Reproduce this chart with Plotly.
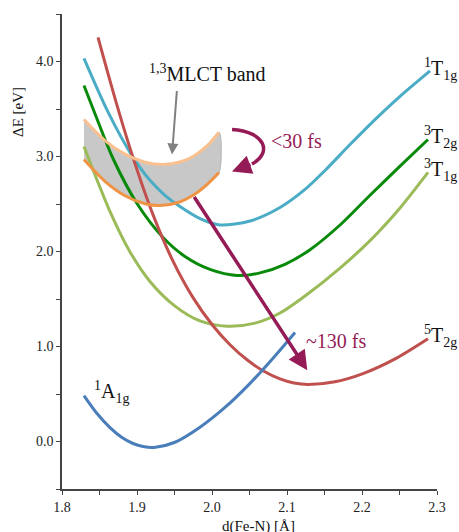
import plotly.graph_objects as go

# ---------------- data ----------------
a1g_x = [1.8293, 1.8467, 1.864, 1.88, 1.8947, 1.908, 1.9227, 1.9507, 1.984, 2.0173, 2.0507, 2.084, 2.1107]
a1g_y = [0.484, 0.295, 0.147, 0.042, -0.021, -0.053, -0.063, -0.008, 0.150, 0.358, 0.612, 0.901, 1.148]

t1g1_x = [1.8293, 1.8613, 1.8933, 1.9173, 1.9373, 1.9573, 1.984, 2.0107, 2.0507, 2.0907, 2.124, 2.1507, 2.184, 2.2173, 2.2507, 2.2907]
t1g1_y = [4.032, 3.469, 3.009, 2.749, 2.592, 2.473, 2.346, 2.279, 2.321, 2.463, 2.653, 2.853, 3.126, 3.389, 3.634, 3.902]

t2g3_x = [1.8293, 1.848, 1.868, 1.9, 1.9347, 1.964, 1.9973, 2.0333, 2.064, 2.0973, 2.1307, 2.1707, 2.2107, 2.2507, 2.288]
t2g3_y = [3.747, 3.368, 2.979, 2.505, 2.147, 1.947, 1.811, 1.747, 1.775, 1.865, 2.019, 2.279, 2.592, 2.898, 3.179]

t1g3_x = [1.8293, 1.8467, 1.864, 1.8907, 1.9173, 1.9507, 1.984, 2.02, 2.0573, 2.0907, 2.124, 2.1707, 2.2107, 2.2507, 2.288]
t1g3_y = [3.105, 2.753, 2.421, 1.996, 1.685, 1.425, 1.269, 1.213, 1.246, 1.353, 1.532, 1.826, 2.114, 2.458, 2.832]

t2g5_x = [1.848, 1.872, 1.8947, 1.9213, 1.948, 1.9747, 2.0013, 2.024, 2.0467, 2.068, 2.0907, 2.1093, 2.128, 2.164, 2.2013, 2.2467, 2.288]
t2g5_y = [4.253, 3.575, 2.988, 2.388, 1.899, 1.515, 1.218, 1.019, 0.860, 0.745, 0.659, 0.616, 0.601, 0.629, 0.715, 0.881, 1.081]

mlct_top_x = [1.8293, 1.8573, 1.884, 1.9107, 1.9347, 1.9573, 1.9747, 1.9933, 2.0093]
mlct_top_y = [3.389, 3.168, 3.025, 2.940, 2.916, 2.942, 3.000, 3.111, 3.253]
mlct_bot_x = [1.8293, 1.8573, 1.884, 1.9107, 1.9307, 1.9533, 1.9747, 1.9933, 2.0093]
mlct_bot_y = [2.968, 2.739, 2.587, 2.503, 2.484, 2.513, 2.593, 2.705, 2.832]

x_ticks = [1.8, 1.9, 2.0, 2.1, 2.2, 2.3]
y_ticks = [0.0, 1.0, 2.0, 3.0, 4.0]

# ---------------- styles ----------------
SERIF = "Liberation Serif"
PURPLE = "#951b57"
C_A1G = "#4a7ebb"
C_T1G1 = "#4bacc6"
C_T2G3 = "#0a8a0a"
C_T1G3 = "#9bbb59"
C_T2G5 = "#c0504d"
C_TOP = "#fac090"
C_BOT = "#ee9444"
LW = 3

fig = go.Figure()

# MLCT band fill (polygon built from the two band edges)
fig.add_trace(go.Scatter(
    x=mlct_top_x + mlct_bot_x[::-1], y=mlct_top_y + mlct_bot_y[::-1],
    fill="toself", fillcolor="#c8c8c8", line=dict(color="#bdbdbd", width=1.5, shape="spline", smoothing=0.8),
    mode="lines", hoverinfo="skip", showlegend=False))

def curve(x, y, color):
    fig.add_trace(go.Scatter(x=x, y=y, mode="lines",
                             line=dict(color=color, width=LW, shape="spline", smoothing=0.8),
                             showlegend=False, hoverinfo="skip"))

curve(t1g3_x, t1g3_y, C_T1G3)
curve(t2g3_x, t2g3_y, C_T2G3)
curve(t1g1_x, t1g1_y, C_T1G1)
curve(t2g5_x, t2g5_y, C_T2G5)
curve(mlct_top_x, mlct_top_y, C_TOP)
curve(mlct_bot_x, mlct_bot_y, C_BOT)
curve(a1g_x, a1g_y, C_A1G)

annotations = []

def label(txt, x, y, xanchor="left"):
    annotations.append(dict(text=txt, x=x, y=y, xref="x", yref="y", xanchor=xanchor,
                            yanchor="middle", showarrow=False,
                            font=dict(family=SERIF, size=20, color="#111111")))

label("<sup>1</sup>T<sub>1g</sub>", 2.28, 3.92)
label("<sup>3</sup>T<sub>2g</sub>", 2.28, 3.205)
label("<sup>3</sup>T<sub>1g</sub>", 2.28, 2.858)
label("<sup>5</sup>T<sub>2g</sub>", 2.28, 1.11)
label("<sup>1</sup>A<sub>1g</sub>", 1.84, 0.52)
label("<sup>1,3</sup>MLCT band", 1.9133, 3.88)

# gray arrow to band
annotations.append(dict(text="", x=1.9467, y=3.021, ax=1.9533, ay=3.705, xref="x", yref="y",
                        axref="x", ayref="y", showarrow=True, arrowhead=2, arrowsize=1.1,
                        arrowwidth=2, arrowcolor="#808080", standoff=0))

# purple straight arrow (~130 fs)
annotations.append(dict(text="", x=2.127, y=0.75, ax=1.975, ay=2.59, xref="x", yref="y",
                        axref="x", ayref="y", showarrow=True, arrowhead=2, arrowsize=1.1,
                        arrowwidth=3.5, arrowcolor=PURPLE, standoff=0))
annotations.append(dict(text="~130 fs", x=2.1653, y=1.053, xref="x", yref="y", showarrow=False,
                        font=dict(family=SERIF, size=20, color=PURPLE)))

# curved arrow (<30 fs)
annotations.append(dict(text="", x=2.0267, y=2.842, ax=2.0533, ay=2.921, xref="x", yref="y",
                        axref="x", ayref="y", showarrow=True, arrowhead=2, arrowsize=1.1,
                        arrowwidth=3.5, arrowcolor=PURPLE, standoff=0))
annotations.append(dict(text="<30 fs", x=2.112, y=3.168, xref="x", yref="y", showarrow=False,
                        font=dict(family=SERIF, size=20, color=PURPLE)))

# axis titles
annotations.append(dict(text="ΔE [eV]", x=-0.117, y=0.794, xref="paper", yref="paper",
                        textangle=-90, showarrow=False, xanchor="center", yanchor="middle",
                        font=dict(family=SERIF, size=15, color="#111111")))
annotations.append(dict(text="d(Fe-N) [Å]", x=0.523, y=-0.078, xref="paper", yref="paper",
                        showarrow=False, xanchor="center", yanchor="middle",
                        font=dict(family=SERIF, size=15, color="#111111")))

shapes = [dict(type="path", xref="x", yref="y",
               path="M 2.0267,3.284 C 2.0707,3.263 2.0813,3.042 2.0533,2.921",
               line=dict(color=PURPLE, width=3.5))]

axis_common = dict(showgrid=False, zeroline=False, showline=True, linecolor="#444444",
                   linewidth=1.5, ticks="outside", ticklen=4, tickwidth=1.2, tickcolor="#444444",
                   tickfont=dict(family=SERIF, size=14, color="#222222"))

fig.update_layout(
    width=459, height=532,
    margin=dict(l=62, r=22, t=14, b=43),
    font=dict(family=SERIF),
    plot_bgcolor="white", paper_bgcolor="white",
    xaxis=dict(range=[1.8, 2.3], tickvals=x_ticks, ticktext=[f"{v:.1f}" for v in x_ticks],
               minor=dict(dtick=0.05, ticks="outside", ticklen=4, tickcolor="#444444", tickwidth=1.2),
               **axis_common),
    yaxis=dict(range=[-0.5, 4.5], tickvals=y_ticks, ticktext=[f"{v:.1f}" for v in y_ticks],
               minor=dict(dtick=0.5, tick0=-0.5, ticks="outside", ticklen=4, tickcolor="#444444", tickwidth=1.2),
               **axis_common),
    annotations=annotations,
    shapes=shapes,
)

fig.write_html("out.html", config={"displayModeBar": False},
               post_script="document.body.style.margin='0';document.body.style.overflow='hidden';")
